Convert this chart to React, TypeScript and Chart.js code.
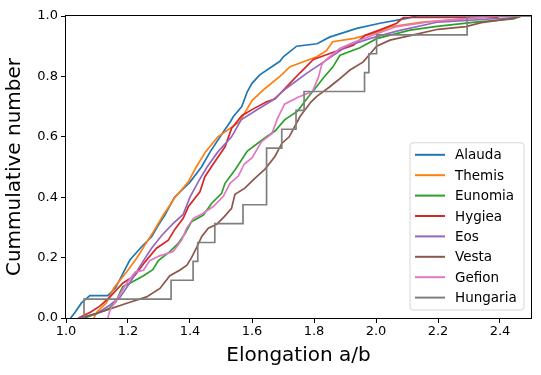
import React, { useEffect, useRef } from "react";
import { Chart, registerables } from "chart.js";

Chart.register(...registerables);

// ---- data (elongation a/b, cumulative fraction) ----
const seriesNames = ["Alauda", "Themis", "Eunomia", "Hygiea", "Eos", "Vesta", "Gefion", "Hungaria"];
const seriesColors = ["#1f77b4", "#ff7f0e", "#2ca02c", "#d62728", "#9467bd", "#8c564b", "#e377c2", "#7f7f7f"];

const alauda: [number, number][] = [
  [1.015, 0], [1.03, 0.02], [1.05, 0.05], [1.077, 0.074], [1.135, 0.074], [1.16, 0.1], [1.185, 0.15],
  [1.206, 0.192], [1.244, 0.236], [1.276, 0.269], [1.298, 0.308], [1.319, 0.341], [1.35, 0.4],
  [1.4, 0.45], [1.437, 0.5], [1.465, 0.55], [1.497, 0.6], [1.53, 0.65], [1.54, 0.667], [1.567, 0.7],
  [1.585, 0.75], [1.6, 0.777], [1.625, 0.805], [1.69, 0.85], [1.701, 0.865], [1.744, 0.9],
  [1.81, 0.908], [1.85, 0.93], [1.938, 0.959], [2.013, 0.976], [2.099, 0.992], [2.13, 1.0], [2.5, 1.0],
];
const themis: [number, number][] = [
  [1.09, 0], [1.1, 0.02], [1.13, 0.05], [1.155, 0.1], [1.196, 0.153], [1.228, 0.198], [1.255, 0.242],
  [1.282, 0.286], [1.314, 0.341], [1.352, 0.4], [1.394, 0.45], [1.42, 0.5], [1.45, 0.55], [1.49, 0.6],
  [1.56, 0.65], [1.6, 0.72], [1.642, 0.76], [1.69, 0.8], [1.723, 0.832], [1.809, 0.865], [1.84, 0.885],
  [1.86, 0.915], [1.93, 0.926], [2.0, 0.945], [2.05, 0.965], [2.15, 0.98], [2.34, 0.995], [2.36, 1.0],
  [2.5, 1.0],
];
const eunomia: [number, number][] = [
  [1.06, 0], [1.1, 0.015], [1.14, 0.032], [1.161, 0.054], [1.183, 0.104], [1.215, 0.12], [1.25, 0.14],
  [1.28, 0.16], [1.298, 0.19], [1.335, 0.22], [1.362, 0.247], [1.384, 0.28], [1.405, 0.319],
  [1.443, 0.341], [1.47, 0.38], [1.502, 0.413], [1.513, 0.446], [1.545, 0.49], [1.585, 0.553],
  [1.64, 0.595], [1.675, 0.62], [1.705, 0.656], [1.747, 0.685], [1.78, 0.73], [1.8, 0.755],
  [1.832, 0.797], [1.86, 0.83], [1.884, 0.87], [1.948, 0.895], [2.002, 0.925], [2.11, 0.953],
  [2.19, 0.965], [2.32, 0.98], [2.443, 0.99], [2.47, 1.0], [2.5, 1.0],
];
const hygiea: [number, number][] = [
  [1.04, 0], [1.08, 0.02], [1.11, 0.04], [1.142, 0.07], [1.183, 0.115], [1.223, 0.142], [1.255, 0.186],
  [1.292, 0.231], [1.33, 0.258], [1.352, 0.295], [1.378, 0.33], [1.395, 0.369], [1.432, 0.418],
  [1.448, 0.468], [1.475, 0.51], [1.513, 0.567], [1.534, 0.628], [1.567, 0.67], [1.6, 0.69],
  [1.647, 0.716], [1.674, 0.725], [1.712, 0.766], [1.755, 0.812], [1.798, 0.856], [1.862, 0.88],
  [1.927, 0.903], [1.965, 0.936], [2.013, 0.954], [2.067, 0.976], [2.088, 0.995], [2.39, 0.995],
  [2.4, 1.0], [2.5, 1.0],
];
const eos: [number, number][] = [
  [1.04, 0], [1.1, 0.015], [1.142, 0.043], [1.175, 0.07], [1.205, 0.115], [1.232, 0.16], [1.25, 0.19],
  [1.276, 0.231], [1.31, 0.275], [1.346, 0.313], [1.378, 0.343], [1.4, 0.4], [1.426, 0.45],
  [1.455, 0.5], [1.49, 0.55], [1.534, 0.6], [1.565, 0.656], [1.615, 0.689], [1.665, 0.72],
  [1.71, 0.76], [1.776, 0.81], [1.84, 0.854], [1.905, 0.9], [1.98, 0.925], [2.067, 0.95],
  [2.2, 0.98], [2.45, 0.995], [2.47, 1.0], [2.5, 1.0],
];
const vesta: [number, number][] = [
  [1.05, 0], [1.131, 0.026], [1.196, 0.049], [1.26, 0.07], [1.303, 0.098], [1.335, 0.14], [1.368, 0.159],
  [1.39, 0.175], [1.405, 0.2], [1.422, 0.235], [1.438, 0.27], [1.459, 0.297], [1.486, 0.31],
  [1.51, 0.335], [1.534, 0.363], [1.545, 0.41], [1.577, 0.43], [1.61, 0.463], [1.642, 0.493],
  [1.674, 0.535], [1.696, 0.578], [1.72, 0.6], [1.755, 0.667], [1.79, 0.715], [1.81, 0.735],
  [1.85, 0.765], [1.878, 0.788], [1.916, 0.821], [1.959, 0.848], [2.002, 0.9], [2.045, 0.92],
  [2.11, 0.935], [2.2, 0.956], [2.29, 0.965], [2.34, 0.978], [2.44, 0.992], [2.47, 1.0], [2.5, 1.0],
];
const gefion: [number, number][] = [
  [1.135, 0], [1.142, 0.026], [1.169, 0.07], [1.196, 0.115], [1.223, 0.152], [1.25, 0.158], [1.27, 0.19],
  [1.3, 0.205], [1.346, 0.22], [1.373, 0.258], [1.389, 0.297], [1.411, 0.33], [1.44, 0.345],
  [1.475, 0.369], [1.507, 0.402], [1.529, 0.446], [1.556, 0.47], [1.575, 0.51], [1.6, 0.53],
  [1.631, 0.584], [1.664, 0.61], [1.682, 0.66], [1.705, 0.708], [1.75, 0.732], [1.795, 0.75],
  [1.815, 0.799], [1.825, 0.84], [1.84, 0.856], [1.884, 0.893], [1.927, 0.912], [1.991, 0.937],
  [2.067, 0.965], [2.174, 0.981], [2.303, 0.992], [2.4, 1.0], [2.5, 1.0],
];
const hungaria: [number, number][] = [
  [1.058, 0], [1.058, 0.0625], [1.339, 0.125], [1.41, 0.1875], [1.425, 0.25], [1.48, 0.3125],
  [1.571, 0.375], [1.647, 0.5625], [1.696, 0.625], [1.742, 0.6875], [1.768, 0.75], [1.963, 0.8125],
  [1.977, 0.875], [2.002, 0.9375], [2.294, 1.0], [2.5, 1.0],
];

const xTicks = [1.0, 1.2, 1.4, 1.6, 1.8, 2.0, 2.2, 2.4];
const yTicks = [0.0, 0.2, 0.4, 0.6, 0.8, 1.0];
const xLabel = "Elongation a/b";
const yLabel = "Cummulative number";

const FONT = "'DejaVu Sans', sans-serif";

const framePlugin = {
  id: "frame",
  afterDatasetsDraw(chart: any) {
    // legend (inside, lower right)
    const { ctx, chartArea: a } = chart;
    const ds = chart.data.datasets;
    const boxR = a.right - 7;
    const boxB = a.bottom - 8;
    const rowH = 20.4;
    const boxW = 114;
    const boxH = rowH * ds.length + 4;
    const boxL = boxR - boxW;
    const boxT = boxB - boxH;
    ctx.save();
    ctx.beginPath();
    const r = 3;
    ctx.moveTo(boxL + r, boxT);
    ctx.lineTo(boxR - r, boxT);
    ctx.quadraticCurveTo(boxR, boxT, boxR, boxT + r);
    ctx.lineTo(boxR, boxB - r);
    ctx.quadraticCurveTo(boxR, boxB, boxR - r, boxB);
    ctx.lineTo(boxL + r, boxB);
    ctx.quadraticCurveTo(boxL, boxB, boxL, boxB - r);
    ctx.lineTo(boxL, boxT + r);
    ctx.quadraticCurveTo(boxL, boxT, boxL + r, boxT);
    ctx.closePath();
    ctx.fillStyle = "rgba(255,255,255,0.8)";
    ctx.fill();
    ctx.strokeStyle = "#d6d6d6";
    ctx.lineWidth = 1;
    ctx.stroke();
    ctx.font = `13.5px ${FONT}`;
    ctx.textBaseline = "middle";
    ctx.textAlign = "left";
    ds.forEach((d: any, i: number) => {
      const y = boxT + 12 + i * rowH;
      ctx.beginPath();
      ctx.strokeStyle = d.borderColor;
      ctx.lineWidth = 2;
      ctx.moveTo(boxL + 5, y);
      ctx.lineTo(boxL + 35, y);
      ctx.stroke();
      ctx.fillStyle = "#000";
      ctx.fillText(d.label, boxL + 45, y + 1);
    });
    ctx.restore();
  },
  afterDraw(chart: any) {
    const { ctx, chartArea: a } = chart;
    ctx.save();
    ctx.strokeStyle = "#000";
    ctx.lineWidth = 1;
    const l = Math.round(a.left) - 0.5;
    const t = Math.round(a.top) - 0.5;
    const rr = Math.round(a.right) + 0.5;
    const b = Math.round(a.bottom) + 0.5;
    ctx.strokeRect(l, t, rr - l, b - t);
    ctx.restore();
  },
};

export default function App() {
  const ref = useRef<HTMLCanvasElement>(null);
  useEffect(() => {
    if (!ref.current) return;
    const all = [alauda, themis, eunomia, hygiea, eos, vesta, gefion, hungaria];
    const datasets = all.map((d, i) => ({
      label: seriesNames[i],
      data: d,
      borderColor: seriesColors[i],
      backgroundColor: seriesColors[i],
      borderWidth: 1.7,
      pointRadius: 0,
      pointHoverRadius: 0,
      tension: 0,
      fill: false,
      stepped: i === all.length - 1 ? ("before" as const) : false,
      order: all.length - i,
    }));
    const chart = new Chart(ref.current, {
      type: "line",
      data: { datasets },
      plugins: [framePlugin],
      options: {
        animation: false,
        responsive: false,
        devicePixelRatio: 1,
        layout: { padding: { left: 0, top: 16, right: 10, bottom: 0 } },
        plugins: { legend: { display: false }, tooltip: { enabled: false } },
        scales: {
          x: {
            type: "linear",
            min: 1.0,
            max: 2.5,
            afterBuildTicks: (s: any) => {
              s.ticks = xTicks.map((v) => ({ value: v }));
            },
            afterFit: (s: any) => {
              s.height = 57;
            },
            border: { display: false },
            grid: { drawOnChartArea: false, drawTicks: true, tickLength: 5, color: "#000", lineWidth: 1 },
            ticks: {
              color: "#000",
              font: { family: FONT, size: 13 },
              padding: 1,
              maxRotation: 0,
              autoSkip: false,
              callback: (v: any) => Number(v).toFixed(1),
            },
            title: {
              display: true,
              text: xLabel,
              color: "#000",
              font: { family: FONT, size: 20 },
              padding: { top: 0, bottom: 7 },
            },
          },
          y: {
            type: "linear",
            min: 0,
            max: 1,
            afterBuildTicks: (s: any) => {
              s.ticks = yTicks.map((v) => ({ value: v }));
            },
            afterFit: (s: any) => {
              s.width = 66;
            },
            border: { display: false },
            grid: { drawOnChartArea: false, drawTicks: true, tickLength: 5, color: "#000", lineWidth: 1 },
            ticks: {
              color: "#000",
              font: { family: FONT, size: 13 },
              padding: 3,
              autoSkip: false,
              callback: (v: any) => Number(v).toFixed(1),
            },
            title: {
              display: true,
              text: yLabel,
              color: "#000",
              font: { family: FONT, size: 20 },
              padding: { top: 3, bottom: 0 },
            },
          },
        },
      },
    });
    return () => chart.destroy();
  }, []);
  return (
    <div style={{ position: "absolute", left: 0, top: 0, width: 541, height: 375, background: "#fff" }}>
      <canvas ref={ref} width={541} height={375} style={{ display: "block", width: 541, height: 375 }} />
    </div>
  );
}
